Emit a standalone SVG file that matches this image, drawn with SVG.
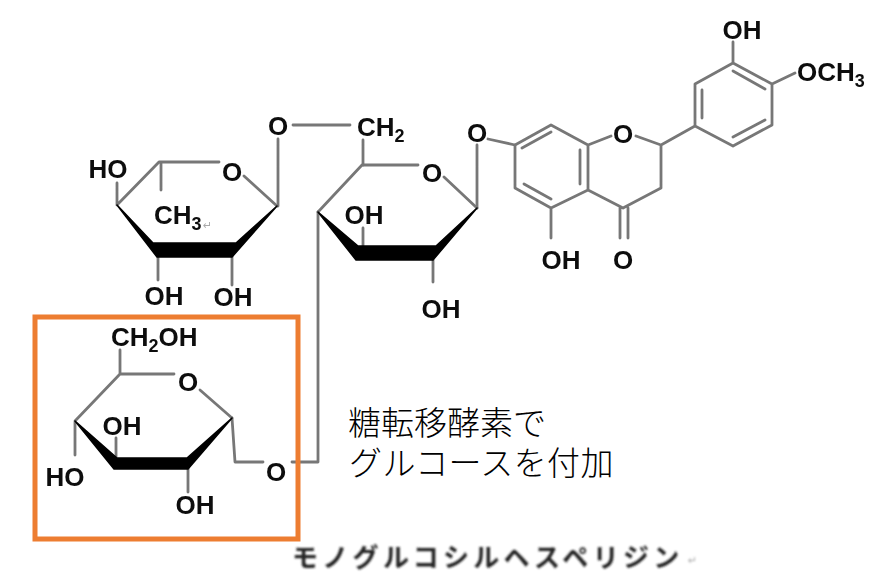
<svg xmlns="http://www.w3.org/2000/svg" width="883" height="577" viewBox="0 0 883 577">
<defs>
<filter id="soft" x="-5%" y="-5%" width="110%" height="110%"><feGaussianBlur stdDeviation="0.7"/></filter>
<filter id="softer" x="-5%" y="-20%" width="110%" height="140%"><feGaussianBlur stdDeviation="0.8"/></filter>
</defs>
<style>
.b{fill:none;stroke:#777;stroke-width:2.8;stroke-linecap:round;stroke-linejoin:round}
.w{fill:#000;stroke:#000;stroke-width:1.5;stroke-linejoin:round}
.a{font-family:"Liberation Sans",Arial,sans-serif;font-weight:bold;font-size:26px;fill:#111;text-anchor:middle}
.s{font-size:18px}
.j{font-family:"Noto Sans CJK JP",sans-serif;font-weight:300;font-size:33px;fill:#000}
.l{letter-spacing:.4px}
.c{font-family:"Noto Sans CJK JP",sans-serif;font-weight:700;font-size:26px;fill:#222;letter-spacing:4.3px}
.r{font-family:"DejaVu Sans",sans-serif;font-size:11px;fill:#aaa}
</style>
<rect width="883" height="577" fill="#fff"/>
<g id="molecule" filter="url(#soft)">
<g id="connectors">
<path class="b" d="M293 125H350M363 140V165M278 139V206M477 145V208M515 145L488 139M318 212V462H292M232 418L235 462H263"/>
</g>
<g id="rhamnose">
<path class="b" d="M117 205L159 162H219M244 176L277 206M117 183V205M161 162V190M158 255V280M232 255V285"/>
<path class="w" d="M117 205L153 243H236L277 206L232 257H157Z"/>
<text class="a" x="108" y="178">HO</text>
<text class="a" x="232" y="181">O</text>
<text class="a" x="154" y="224" style="text-anchor:start">CH<tspan class="s" dy="6">3</tspan></text>
<text class="r" x="203" y="229">↵</text>
<text class="a" x="164" y="305">OH</text>
<text class="a" x="233" y="306">OH</text>
<text class="a" x="278" y="135">O</text>
<text class="a" x="357" y="136" style="text-anchor:start">CH<tspan class="s" dy="6">2</tspan></text>
</g>
<g id="hexose">
<path class="b" d="M318 212L362 165H418M444 177L477 208M363 228V247M433 260V282"/>
<path class="w" d="M318 212L358 246H436L477 208L433 260H356Z"/>
<text class="a" x="432" y="182">O</text>
<text class="a" x="364" y="224">OH</text>
<text class="a" x="441" y="318">OH</text>
</g>
<g id="flavanone">
<path class="b" d="M515 145L551 125L588 145L611 136M636 136L661 145V188L623 208L588 190V145M588 190L551 208L515 188V145M522 148L551 132M524 184L551 199M580 150V184M661 145L695 126V84L733 63L772 84V125L733 146L695 126M702 118V90M733 71L765 89M765 120L733 137M733 63V42M772 84L795 73M551 208V238M620 208V238M628 208V238"/>
<text class="a" x="477" y="142">O</text>
<text class="a" x="623" y="143">O</text>
<text class="a" x="742" y="39">OH</text>
<text class="a" x="797" y="81" style="text-anchor:start">OCH<tspan class="s" dy="6">3</tspan></text>
<text class="a" x="561" y="269">OH</text>
<text class="a" x="623" y="269">O</text>
</g>
<g id="glucose">
<path class="b" d="M120 350V374L75 421M120 374H174M200 390L232 418M75 422V455M116 438V458M188 468V492"/>
<path class="w" d="M75 421L117 458H187L232 418L188 469H114Z"/>
<text class="a" x="111" y="346" style="text-anchor:start">CH<tspan class="s" dy="6">2</tspan><tspan dy="-6">OH</tspan></text>
<text class="a" x="188" y="391">O</text>
<text class="a" x="122" y="435">OH</text>
<text class="a" x="65" y="486">HO</text>
<text class="a" x="195" y="514">OH</text>
<text class="a" x="276" y="481">O</text>
</g>
</g>
<rect id="highlight" x="35" y="317" width="263" height="222" fill="none" stroke="#ed7d31" stroke-width="5"/>
<g id="labels">
<text class="j" x="348" y="435">糖転移酵素で</text>
<text class="j l" x="349" y="475">グルコースを付加</text>
<g filter="url(#softer)">
<text class="c" x="292" y="567">モノグルコシルヘスペリジン</text>
<text class="r" x="688" y="564">↵</text>
</g>
</g>
</svg>
